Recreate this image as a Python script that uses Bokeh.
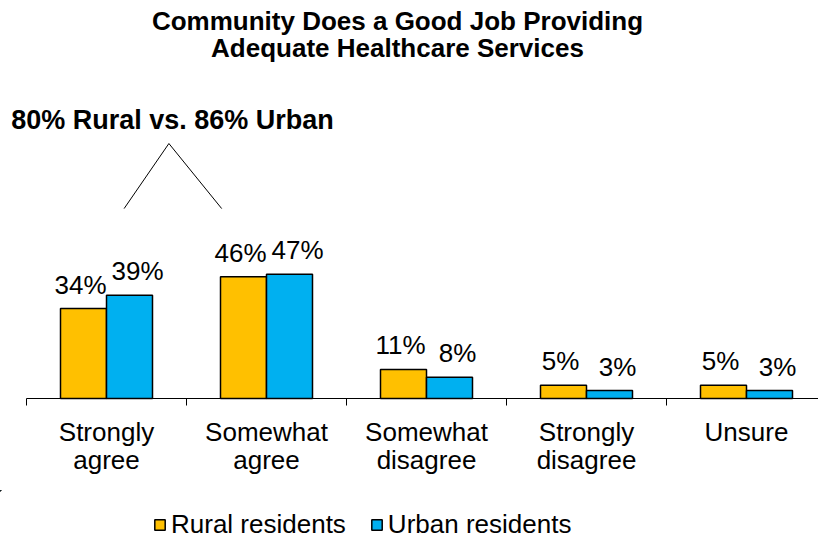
from bokeh.plotting import figure
from bokeh.layouts import column
from bokeh.models import (Range1d, FixedTicker, Label, Legend, LegendItem,
                          ColumnDataSource)
from bokeh.embed import file_html
from bokeh.resources import INLINE
from bokeh.core.properties import value

# ---- data ----
categories = ["Strongly\nagree", "Somewhat\nagree", "Somewhat\ndisagree",
              "Strongly\ndisagree", "Unsure"]
rural = [34, 46, 11, 5, 5]
urban = [39, 47, 8, 3, 3]
series_names = ["Rural residents", "Urban residents"]
title_lines = ["Community Does a Good Job Providing", "Adequate Healthcare Services"]
callout_text = "80% Rural vs. 86% Urban"
callout_x = [0.61, 0.89, 1.22]
callout_y = [71.8, 96.4, 71.8]

# ---- layout constants ----
FONT = "Liberation Sans"
RURAL_C = "#FFC000"
URBAN_C = "#00B0F0"
BAR_W = 0.2875
W = 818
FH = 400            # frame height in px
H1 = 490            # chart figure height (frame + axis panel)
H2 = 50             # legend strip height
PX_X = 160.0        # px per category
PX_Y = 2.645        # px per percent
X0 = -26 / PX_X
Y0 = -2 / PX_Y
BASE_FIX = 10.5     # px correction for alphabetic baseline placement


def dx(px):
    return X0 + px / PX_X


def dy(py):
    return Y0 + (FH - py + BASE_FIX) / PX_Y


n = len(categories)
centers = [i + 0.5 for i in range(n)]
label_gap = (13.5 + BASE_FIX) / PX_Y

src_r = ColumnDataSource(dict(x=[c - BAR_W / 2 for c in centers], top=rural,
                              ly=[v + label_gap for v in rural],
                              txt=[f"{v}%" for v in rural]))
src_u = ColumnDataSource(dict(x=[c + BAR_W / 2 for c in centers], top=urban,
                              ly=[v + label_gap for v in urban],
                              txt=[f"{v}%" for v in urban]))

p = figure(width=W, height=H1,
           x_range=Range1d(X0, X0 + W / PX_X), y_range=Range1d(Y0, Y0 + FH / PX_Y),
           y_axis_location=None, toolbar_location=None, output_backend="svg",
           min_border_left=0, min_border_right=0, min_border_top=0,
           min_border_bottom=H1 - FH)
p.outline_line_color = None
p.xgrid.visible = False
p.ygrid.visible = False
p.background_fill_color = "white"
p.border_fill_color = "white"

# baseline of the category axis, spanning the categories
p.segment(x0=[0], y0=[0], x1=[n], y1=[0], line_color="black", line_width=1)

bar_r = p.vbar(x="x", top="top", width=BAR_W, bottom=0, source=src_r,
               fill_color=RURAL_C, line_color="black", line_width=1.5)
bar_u = p.vbar(x="x", top="top", width=BAR_W, bottom=0, source=src_u,
               fill_color=URBAN_C, line_color="black", line_width=1.5)

p.text(x="x", y="ly", text="txt", source=src_r, text_align="center",
       text_baseline="alphabetic", text_font=value(FONT), text_font_size="26px",
       text_color="black", x_offset=-3)
p.text(x="x", y="ly", text="txt", source=src_u, text_align="center",
       text_baseline="alphabetic", text_font=value(FONT), text_font_size="26px",
       text_color="black", x_offset=8)

# callout
p.line(callout_x, callout_y, line_color="black", line_width=1)
p.add_layout(Label(x=dx(172), y=dy(130), text=callout_text, text_align="center",
                   text_baseline="alphabetic", text_font=FONT, text_font_size="27px",
                   text_font_style="bold", text_color="black"))
for line_txt, base in zip(title_lines, [31, 58]):
    p.add_layout(Label(x=dx(397), y=dy(base), text=line_txt, text_align="center",
                       text_baseline="alphabetic", text_font=FONT, text_font_size="26px",
                       text_font_style="bold", text_color="black"))

# x axis: labels at category centres, tick marks at category boundaries
ax = p.xaxis[0]
ax.ticker = FixedTicker(ticks=centers, minor_ticks=list(range(n + 1)))
ax.major_label_overrides = {c: lab for c, lab in zip(centers, categories)}
ax.major_tick_out = 0
ax.major_tick_in = 0
ax.minor_tick_out = 5
ax.minor_tick_in = 2
ax.minor_tick_line_color = "black"
ax.axis_line_color = None
ax.major_label_standoff = 11
ax.major_label_text_font = FONT
ax.major_label_text_font_size = "26px"
ax.major_label_text_color = "black"
ax.major_label_text_line_height = 0.95

# ---- legend strip (its bars share the data but lie far outside its view) ----
q = figure(width=W, height=H2, x_range=Range1d(100, 101), y_range=Range1d(-100, -99),
           x_axis_location=None, y_axis_location=None, toolbar_location=None,
           output_backend="svg", min_border_left=0, min_border_right=0,
           min_border_top=0, min_border_bottom=0)
q.outline_line_color = None
q.xgrid.visible = False
q.ygrid.visible = False
key_r = q.vbar(x="x", top="top", width=BAR_W, bottom=0, source=src_r,
               fill_color=RURAL_C, line_color="black", line_width=1.5)
key_u = q.vbar(x="x", top="top", width=BAR_W, bottom=0, source=src_u,
               fill_color=URBAN_C, line_color="black", line_width=1.5)
legend = Legend(items=[LegendItem(label=series_names[0], renderers=[key_r]),
                       LegendItem(label=series_names[1], renderers=[key_u])],
                orientation="horizontal", location=(153, 0),
                glyph_width=13, glyph_height=13, label_standoff=5, spacing=24,
                padding=0, margin=0, border_line_color=None,
                label_text_font=FONT, label_text_font_size="26px",
                label_text_color="black", background_fill_alpha=0)
q.add_layout(legend)

layout = column(p, q, spacing=0)
open("out.html", "w").write(file_html(layout, INLINE))
